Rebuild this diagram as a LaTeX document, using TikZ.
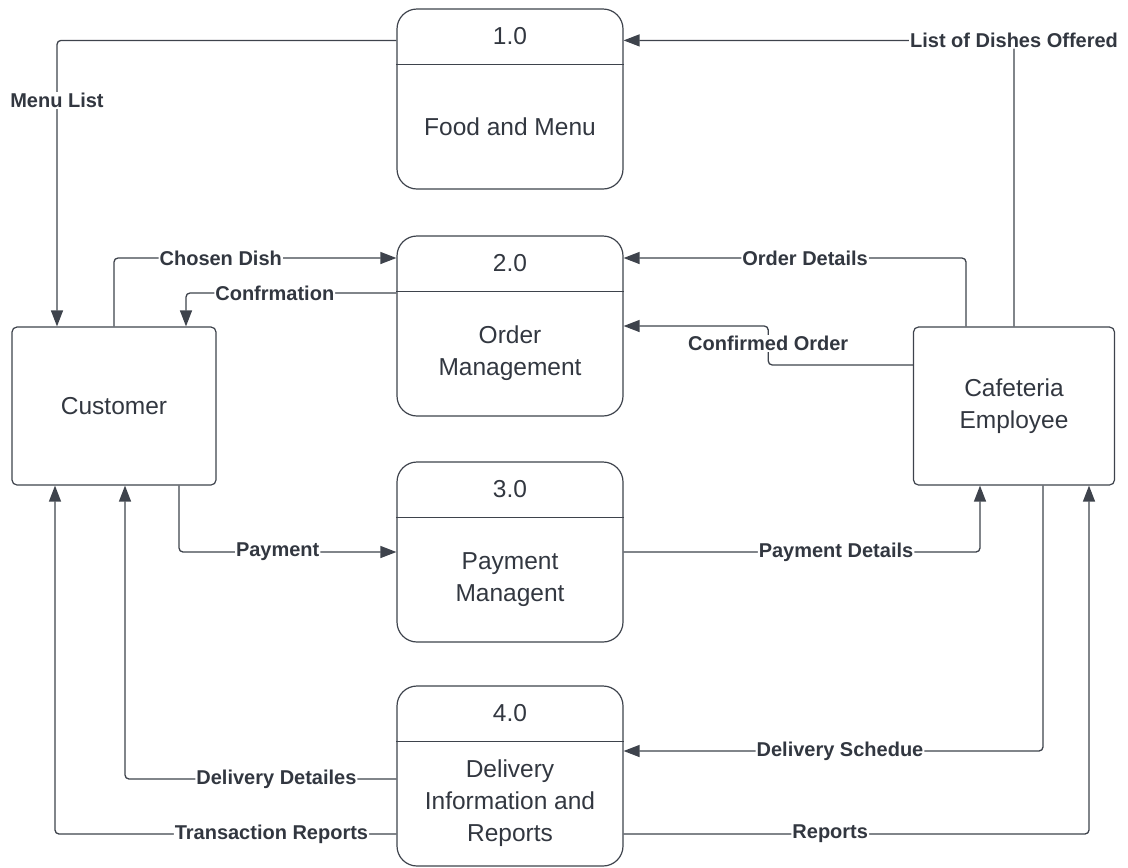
\documentclass[tikz,border=0pt]{standalone}
\usepackage{fontspec}
\setmainfont{Liberation Sans}
\usetikzlibrary{arrows.meta,calc}
\definecolor{dfdline}{RGB}{62,67,76}
\definecolor{dfdtext}{RGB}{50,55,64}
\tikzset{procbox/.style={draw=dfdline,line width=1.2pt,rounded corners=20pt,minimum width=226pt,minimum height=180pt}}
\tikzset{extbox/.style={draw=dfdline,line width=1.2pt,rounded corners=5pt,text=dfdtext,font=\fontsize{24.5}{32}\selectfont,align=center}}
\tikzset{ptext/.style={text=dfdtext,font=\fontsize{24.5}{32}\selectfont,align=center}}
\tikzset{flowline/.style={draw=dfdline,line width=1.3pt,rounded corners=4pt,-{Triangle[length=16pt,width=12pt]}}}
\tikzset{flowlbl/.style={fill=white,text=dfdtext,font=\fontsize{20}{23}\selectfont\bfseries,inner sep=1pt}}

\begin{document}
\begin{tikzpicture}[x=1pt,y=-1pt]
          \useasboundingbox (0,0) rectangle (1128,868);
          % processes
          \node[procbox] (p1) at (510,99) {};
          \node[ptext] (p1n) at ([yshift=-28pt]p1.north) {1.0};
          \node[ptext] (p1t) at ([yshift=-118pt]p1.north) {Food and Menu};
          \node[procbox] (p2) at (510,326) {};
          \node[ptext] (p2n) at ([yshift=-28pt]p2.north) {2.0};
          \node[ptext] (p2t) at ([yshift=-118pt]p2.north) {Order\\Management};
          \node[procbox] (p3) at (510,552) {};
          \node[ptext] (p3n) at ([yshift=-28pt]p3.north) {3.0};
          \node[ptext] (p3t) at ([yshift=-118pt]p3.north) {Payment\\Managent};
          \node[procbox] (p4) at (510,776) {};
          \node[ptext] (p4n) at ([yshift=-28pt]p4.north) {4.0};
          \node[ptext] (p4t) at ([yshift=-118pt]p4.north) {Delivery\\Information and\\Reports};
          \foreach \p in {p1,p2,p3,p4}
            \draw[dfdline,line width=1.2pt] ([yshift=-56pt]\p.north west) -- ([yshift=-56pt]\p.north east);
          % external entities
          \node[extbox,minimum width=204pt,minimum height=158pt] (cust) at (114,406) {Customer};
          \node[extbox,minimum width=201pt,minimum height=158pt] (emp) at (1014,406) {Cafeteria\\Employee};
          % data flows
          \draw[flowline] ([yshift=-32pt]p1.north west) -| node[flowlbl,pos=0.605] {Menu List} ([xshift=-57pt]cust.north);
          \draw[flowline] (cust.north) |- node[flowlbl,pos=0.689] {Chosen Dish} ([yshift=68pt]p2.west);
          \draw[flowline] ([yshift=33pt]p2.west) -| node[flowlbl,pos=0.289] {Confrmation} ([xshift=72pt]cust.north);
          \draw[flowline] (emp.north) |- node[flowlbl,pos=0.5] {List of Dishes Offered} ([yshift=-32pt]p1.north east);
          \draw[flowline] ([xshift=-48pt]emp.north) |- node[flowlbl,pos=0.735] {Order Details} ([yshift=68pt]p2.east);
          \draw[flowline] ([yshift=41pt]emp.west) -| ($([yshift=41pt]emp.west)!.5!(p2.east)$)
                          node[flowlbl,yshift=2pt] {Confirmed Order} |- (p2.east);
          \draw[flowline] ([xshift=65pt]cust.south) |- node[flowlbl,pos=0.727] {Payment} (p3.west);
          \draw[flowline] (p3.east) -| node[flowlbl,pos=0.298] {Payment Details} ([xshift=-34pt]emp.south);
          \draw[flowline] ([xshift=29pt]emp.south) |- node[flowlbl,pos=0.742] {Delivery Schedue} ([yshift=25pt]p4.east);
          \draw[flowline] ([yshift=-58pt]p4.east) -| node[flowlbl,pos=0.222] {Reports} ([xshift=75pt]emp.south);
          \draw[flowline] ([yshift=-3pt]p4.west) -| node[flowlbl,pos=0.221] {Delivery Detailes} ([xshift=11pt]cust.south);
          \draw[flowline] ([yshift=-58pt]p4.west) -| node[flowlbl,pos=0.183] {Transaction Reports} ([xshift=-59pt]cust.south);
        \end{tikzpicture}
\end{document}
